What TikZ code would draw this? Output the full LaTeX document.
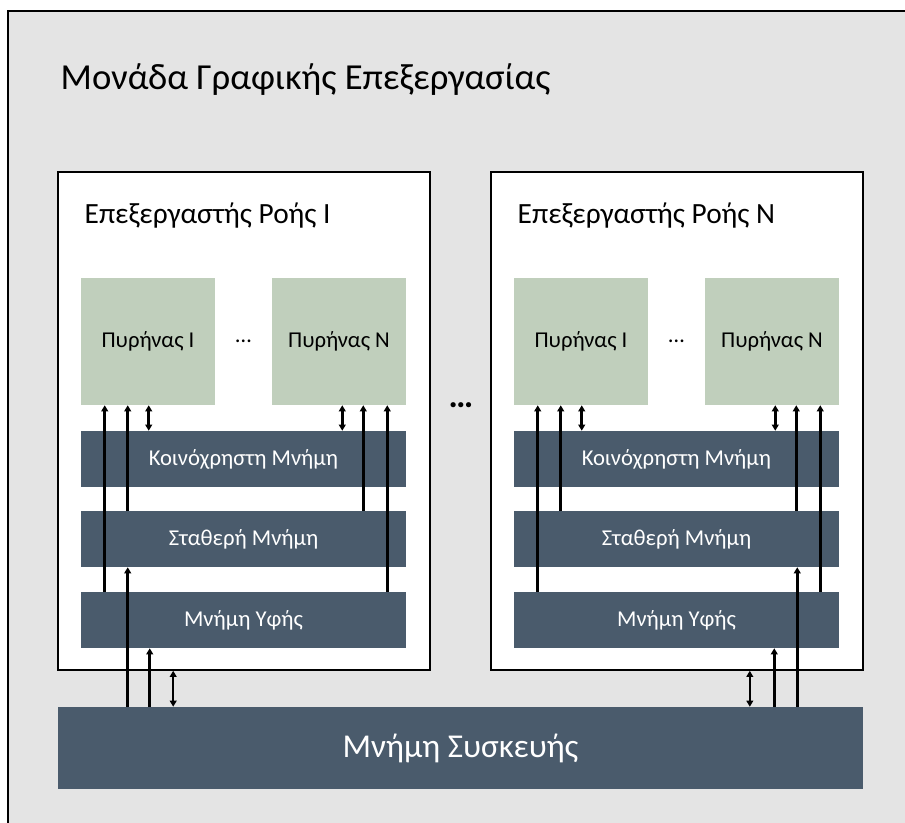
\documentclass[tikz,border=0pt]{standalone}
\usepackage{fontspec}
\setmainfont{Carlito}
\usetikzlibrary{arrows.meta, positioning, shadows}
\definecolor{gframe}{RGB}{228,228,228}
\definecolor{gbar}{RGB}{74,91,108}
\definecolor{gcore}{RGB}{192,207,188}

\begin{document}
\begin{tikzpicture}[
    x=0.75pt, y=-0.75pt,
    smbox/.style={draw=black, line width=1.2pt, fill=white, minimum width=279pt, minimum height=373.5pt,
        drop shadow={shadow xshift=1pt, shadow yshift=-1pt, fill=black!45, opacity=1}},
    core/.style={fill=gcore, minimum width=100.5pt, minimum height=95.25pt, font=\fontsize{17}{20}\selectfont},
    mem/.style={fill=gbar, text=white, minimum width=243.75pt, minimum height=42pt, font=\fontsize{17}{20}\selectfont},
    up/.style={line width=2pt, -{Triangle[length=4.5pt,width=5pt]}},
    both/.style={line width=2pt, {Triangle[length=4.5pt,width=5pt]}-{Triangle[length=4.5pt,width=5pt]}}
]
    \useasboundingbox (0,0) rectangle (905,823);

    % GPU frame
    \fill[gframe] (8,11) rectangle (915,830);
    \draw[line width=1.5pt] (8,830) -- (8,11) -- (915,11);
    \node[anchor=base west, font=\fontsize{27.5}{32}\selectfont] (gpu) at (56,90) {Μονάδα Γραφικής Επεξεργασίας};

    % Streaming multiprocessors
    \foreach \s/\x/\n in {1/0/I, 2/433/N} {
        \begin{scope}[shift={(\x,0)}]
            \node[smbox] (sm\s) at (244,421) {};
            \node[anchor=base west, font=\fontsize{22}{26}\selectfont] (smt\s) at (80,224) {Επεξεργαστής Ροής \n};
            \node[core] (core\s-1) at (148,341.5) {Πυρήνας I};
            \node[core] (core\s-n) at (339,341.5) {Πυρήνας N};
            \node[font=\fontsize{17}{20}\selectfont] (cdots\s) at (243.5,341.5) {…};
            \node[mem] (shm\s) at (243.5,459) {Κοινόχρηστη Μνήμη};
            \node[mem] (cst\s) at (243.5,539) {Σταθερή Μνήμη};
            \node[mem] (tex\s) at (243.5,620) {Μνήμη Υφής};
        \end{scope}

        % memory to cores
        \draw[up] ([xshift=18pt]tex\s.north west) -- ([xshift=18pt]core\s-1.south west);
        \draw[up] ([xshift=35.25pt]cst\s.north west) -- ([xshift=35.25pt]core\s-1.south west);
        \draw[both] ([xshift=51pt]shm\s.north west) -- ([xshift=51pt]core\s-1.south west);
        \draw[both] ([xshift=-48pt]shm\s.north east) -- ([xshift=-48pt]core\s-n.south east);
        \draw[up] ([xshift=-32.25pt]cst\s.north east) -- ([xshift=-32.25pt]core\s-n.south east);
        \draw[up] ([xshift=-14.25pt]tex\s.north east) -- ([xshift=-14.25pt]core\s-n.south east);
    }

    \node[font=\fontsize{26}{30}\selectfont\bfseries] (smdots) at (461,405) {…};

    % Device memory
    \node[mem, minimum width=603.75pt, minimum height=61.5pt, font=\fontsize{25}{30}\selectfont] (dev) at (460.5,748) {Μνήμη Συσκευής};

    % device memory links
    \coordinate (l1) at ([xshift=35.25pt]cst1.south west);
    \coordinate (l2) at ([xshift=51.75pt]tex1.south west);
    \coordinate (l3) at ([xshift=87pt]sm1.south west);
    \coordinate (r1) at ([xshift=-31.5pt]cst2.south east);
    \coordinate (r2) at ([xshift=-48.75pt]tex2.south east);
    \coordinate (r3) at ([xshift=-85.5pt]sm2.south east);
    \draw[up] (l1 |- dev.north) -- (l1);
    \draw[up] (l2 |- dev.north) -- (l2);
    \draw[both, line width=1.2pt] (l3 |- dev.north) -- (l3);
    \draw[up] (r1 |- dev.north) -- (r1);
    \draw[up] (r2 |- dev.north) -- (r2);
    \draw[both, line width=1.2pt] (r3 |- dev.north) -- (r3);
\end{tikzpicture}
\end{document}
